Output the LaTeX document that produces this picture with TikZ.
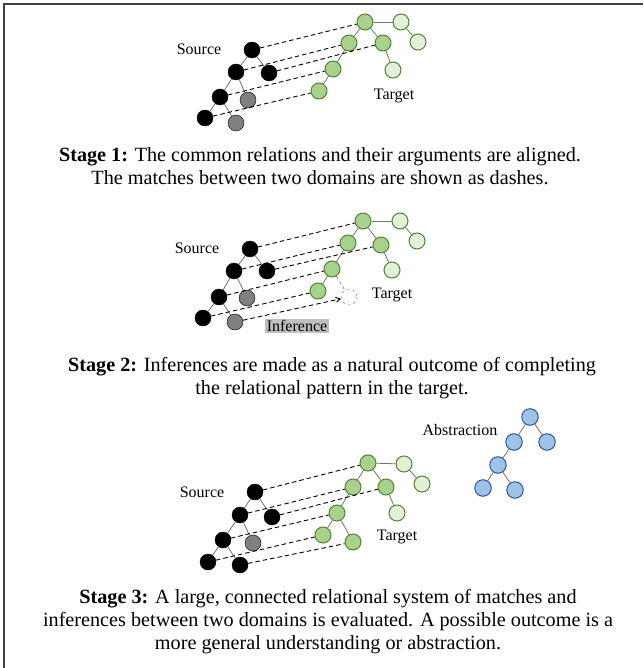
\documentclass[tikz,border=0pt]{standalone}
\usepackage{fontspec}
\setmainfont{Liberation Serif}
\usetikzlibrary{arrows}
\usetikzlibrary{shapes}

\definecolor{grnfill}{HTML}{A9D18E}
\definecolor{grnline}{HTML}{548235}
\definecolor{grnlight}{HTML}{E2F0D9}
\definecolor{blufill}{HTML}{9DC3E6}
\definecolor{bluline}{HTML}{2F5597}

\tikzstyle{src}=[circle,draw=black,fill=black,minimum size=16pt,inner sep=0pt]
\tikzstyle{unmatched}=[circle,draw=black,fill=black!50,minimum size=16pt,inner sep=0pt]
\tikzstyle{tgt}=[circle,draw=grnline,fill=grnfill,line width=1pt,minimum size=16pt,inner sep=0pt]
\tikzstyle{tgtfree}=[circle,draw=grnline,fill=grnlight,line width=1pt,minimum size=16pt,inner sep=0pt]
\tikzstyle{inferred}=[circle,draw=black!50,dashed,fill=white,minimum size=16pt,inner sep=0pt]
\tikzstyle{absnode}=[circle,draw=bluline,fill=blufill,line width=1pt,minimum size=16.5pt,inner sep=0pt]
\tikzstyle{rel}=[draw=black!55,line width=0.8pt]
\tikzstyle{match}=[line width=0.9pt,dash pattern=on 4.5pt off 3pt]
\tikzstyle{lbl}=[font=\fontsize{16}{18}\selectfont]
\tikzstyle{caption}=[align=center,font=\fontsize{20.2}{23}\selectfont]

\begin{document}
\begin{tikzpicture}[x=1pt,y=-1pt]
\useasboundingbox (0,0) rectangle (643,668);
\draw[line width=1.6pt,draw=black!75] (4,668) -- (4,4) -- (643,4);

% Stage 1
\node[src] (a1) at (252,50) {};
\node[src] (a2) at (236,72) {};
\node[src] (a3) at (269,73) {};
\node[src] (a4) at (220,97) {};
\node[unmatched] (a5) at (248,100) {};
\node[src] (a6) at (205,118) {};
\node[unmatched] (a7) at (236,123) {};
\node[tgt] (b1) at (365,22) {};
\node[tgtfree] (b2) at (401,22) {};
\node[tgt] (b3) at (349,43) {};
\node[tgt] (b4) at (383,43) {};
\node[tgtfree] (b5) at (418,42) {};
\node[tgt] (b6) at (333,69) {};
\node[tgtfree] (b7) at (393,70) {};
\node[tgt] (b8) at (319,91) {};
\node[lbl] (src1) at (199,49) {Source};
\node[lbl] (tgt1) at (394,96) {Target};

\draw[rel] (a1) -- (a2); \draw[rel] (a1) -- (a3);
\draw[rel] (a2) -- (a4); \draw[rel] (a2) -- (a5);
\draw[rel] (a4) -- (a6); \draw[rel] (a4) -- (a7);
\draw[rel] (b1) -- (b2); \draw[rel] (b2) -- (b5);
\draw[rel] (b1) -- (b3); \draw[rel] (b1) -- (b4);
\draw[rel] (b4) -- (b7); \draw[rel] (b3) -- (b6);
\draw[rel] (b6) -- (b8);

\draw[match] (a1) -- (b1);
\draw[match] (a2) -- (b3);
\draw[match] (a3) -- (b4);
\draw[match] (a4) -- (b6);
\draw[match] (a6) -- (b8);

\node[caption] (cap1) at (320,166) {\textbf{Stage 1:} The common relations and their arguments are aligned.\\The matches between two domains are shown as dashes.};

% Stage 2
\node[src] (c1) at (250,249) {};
\node[src] (c2) at (234,271) {};
\node[src] (c3) at (267,271) {};
\node[src] (c4) at (219,297) {};
\node[unmatched] (c5) at (247,298) {};
\node[src] (c6) at (203,318) {};
\node[unmatched] (c7) at (235,322) {};
\node[tgt] (d1) at (363,221) {};
\node[tgtfree] (d2) at (400,221) {};
\node[tgt] (d3) at (348,243) {};
\node[tgt] (d4) at (381,245) {};
\node[tgtfree] (d5) at (417,241) {};
\node[tgt] (d6) at (332,269) {};
\node[tgtfree] (d7) at (392,270) {};
\node[tgt] (d8) at (318,291) {};
\node[inferred] (d9) at (349,297) {};
\node[lbl] (src2) at (197,248) {Source};
\node[lbl] (tgt2) at (392,295) {Target};
\node[lbl,fill=black!25,inner sep=1.5pt] (inf) at (297,326) {Inference};

\draw[rel] (c1) -- (c2); \draw[rel] (c1) -- (c3);
\draw[rel] (c2) -- (c4); \draw[rel] (c2) -- (c5);
\draw[rel] (c4) -- (c6); \draw[rel] (c4) -- (c7);
\draw[rel] (d1) -- (d2); \draw[rel] (d2) -- (d5);
\draw[rel] (d1) -- (d3); \draw[rel] (d1) -- (d4);
\draw[rel] (d4) -- (d7); \draw[rel] (d3) -- (d6);
\draw[rel] (d6) -- (d8);
\draw[rel,dashed,draw=black!45] (d6) -- (d9);

\draw[match] (c1) -- (d1);
\draw[match] (c2) -- (d3);
\draw[match] (c3) -- (d4);
\draw[match] (c4) -- (d6);
\draw[match] (c6) -- (d8);
\draw[match,->,>=angle 60] (c7) -- (d9);

\node[caption] (cap2) at (332,378) {\textbf{Stage 2:} Inferences are made as a natural outcome of completing\\the relational pattern in the target.};

% Stage 3
\node[src] (e1) at (255,492) {};
\node[src] (e2) at (240,515) {};
\node[src] (e3) at (272,517) {};
\node[src] (e4) at (223,540) {};
\node[unmatched] (e5) at (253,543) {};
\node[src] (e6) at (208,562) {};
\node[src] (e7) at (240,565) {};
\node[tgt] (f1) at (368,463) {};
\node[tgtfree] (f2) at (404,464) {};
\node[tgt] (f3) at (353,487) {};
\node[tgt] (f4) at (386,487) {};
\node[tgtfree] (f5) at (422,484) {};
\node[tgt] (f6) at (337,513) {};
\node[tgtfree] (f7) at (397,513) {};
\node[tgt] (f8) at (323,535) {};
\node[tgt] (f9) at (353,542) {};
\node[lbl] (src3) at (202,492) {Source};
\node[lbl] (tgt3) at (397,537) {Target};

\draw[rel] (e1) -- (e2); \draw[rel] (e1) -- (e3);
\draw[rel] (e2) -- (e4); \draw[rel] (e2) -- (e5);
\draw[rel] (e4) -- (e6); \draw[rel] (e4) -- (e7);
\draw[rel] (f1) -- (f2); \draw[rel] (f2) -- (f5);
\draw[rel] (f1) -- (f3); \draw[rel] (f1) -- (f4);
\draw[rel] (f4) -- (f7); \draw[rel] (f3) -- (f6);
\draw[rel] (f6) -- (f8); \draw[rel] (f6) -- (f9);

\draw[match] (e1) -- (f1);
\draw[match] (e2) -- (f3);
\draw[match] (e3) -- (f4);
\draw[match] (e4) -- (f6);
\draw[match] (e6) -- (f8);
\draw[match] (e7) -- (f9);

% abstraction
\node[absnode] (g1) at (530,417) {};
\node[absnode] (g2) at (514,442) {};
\node[absnode] (g3) at (547,442) {};
\node[absnode] (g4) at (498,465) {};
\node[absnode] (g5) at (483,488) {};
\node[absnode] (g6) at (515,490) {};
\node[lbl] (abs) at (460,430) {Abstraction};
\draw[rel] (g1) -- (g2); \draw[rel] (g1) -- (g3);
\draw[rel] (g2) -- (g4);
\draw[rel] (g4) -- (g5); \draw[rel] (g4) -- (g6);

\node[caption] (cap3) at (328,622) {\textbf{Stage 3:} A large, connected relational system of matches and\\inferences between two domains is evaluated. A possible outcome is a\\more general understanding or abstraction.};
\end{tikzpicture}
\end{document}
